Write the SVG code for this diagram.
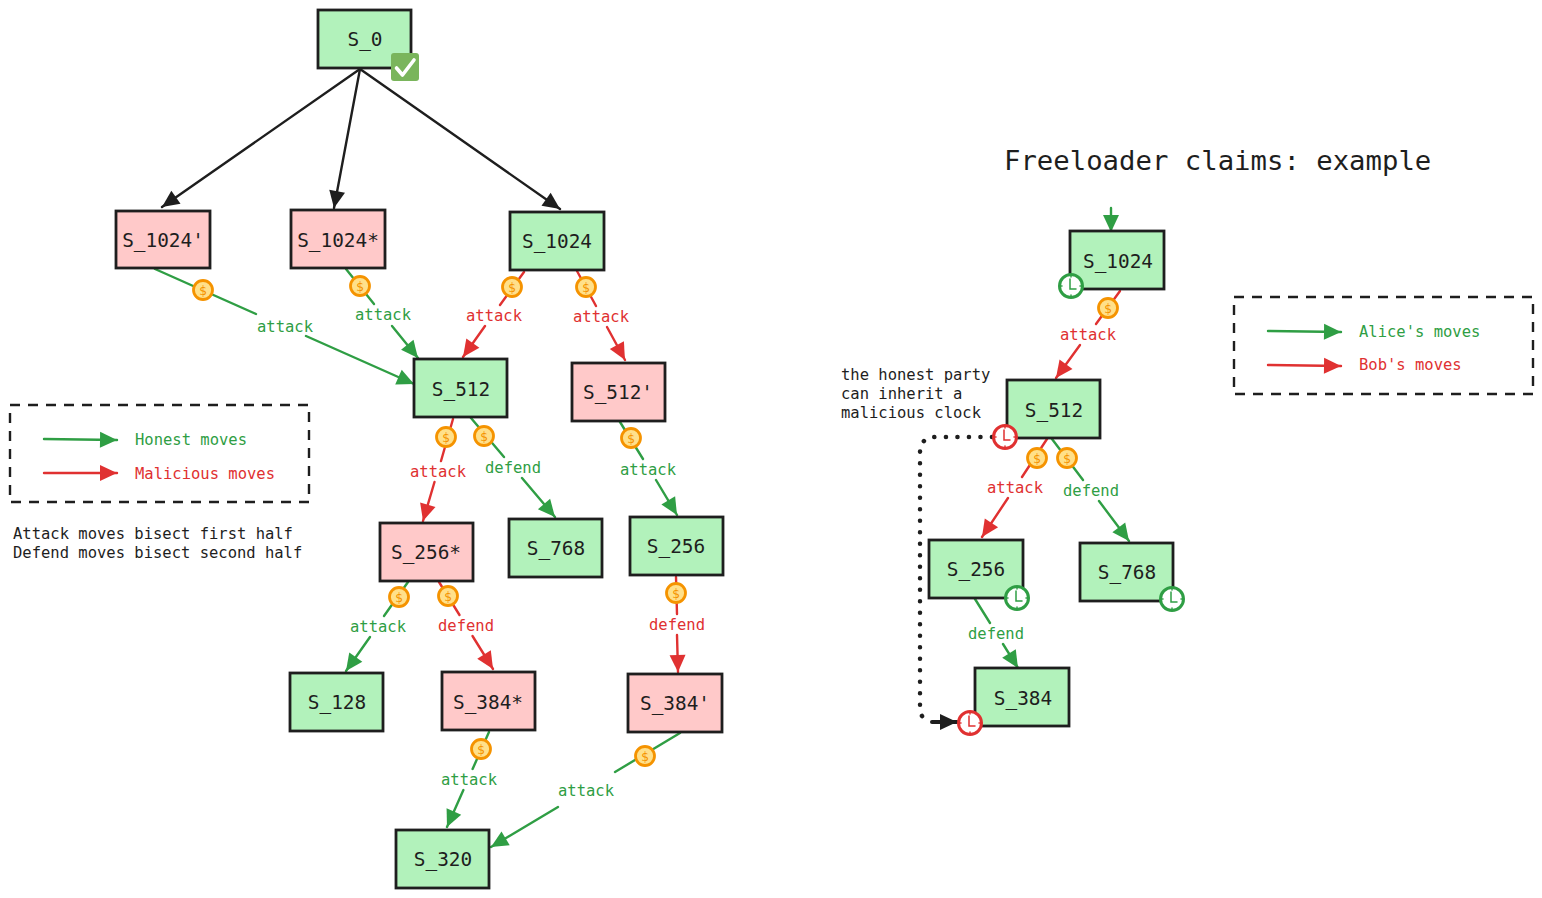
<svg xmlns="http://www.w3.org/2000/svg" width="1542" height="898" viewBox="0 0 1542 898">
<style>
text{font-family:"DejaVu Sans Mono","Liberation Mono",monospace}
.n rect{stroke:#1e1e1e;stroke-width:2.8}
.g rect{fill:#b2f2bb}
.p rect{fill:#ffc9c9}
.n text{font-size:19.4px;fill:#1e1e1e;text-anchor:middle}
.c{fill:none;stroke-width:2.4;stroke-linecap:round;stroke-linejoin:round}
.cg{stroke:#2f9e44;marker-end:url(#ag)}
.cr{stroke:#e03131;marker-end:url(#ar)}
.ck{stroke:#1e1e1e;marker-end:url(#ak)}
.l{font-size:15.5px;text-anchor:middle}
.tg{fill:#2f9e44}
.tr{fill:#e03131}
.t{font-size:15.5px;fill:#1e1e1e}
.box{fill:none;stroke:#1e1e1e;stroke-width:2.4;stroke-dasharray:10 8}
.coin circle{fill:#ffe08a;stroke:#f59300;stroke-width:2.8}
.coin text{font-size:13px;fill:#f59300;text-anchor:middle}
.clk circle{fill:#fff;stroke:currentColor;stroke-width:3}
.clk path{fill:none;stroke:currentColor;stroke-width:1.5;stroke-linecap:round}
.ckg{color:#2f9e44}
.ckr{color:#e03131}
</style>
<defs>
<marker id="ag" markerUnits="userSpaceOnUse" markerWidth="20" markerHeight="18" refX="18" refY="9" orient="auto"><path d="M1 1L18 9L1 17Z" fill="#2f9e44"/></marker>
<marker id="ar" markerUnits="userSpaceOnUse" markerWidth="20" markerHeight="18" refX="18" refY="9" orient="auto"><path d="M1 1L18 9L1 17Z" fill="#e03131"/></marker>
<marker id="ak" markerUnits="userSpaceOnUse" markerWidth="20" markerHeight="18" refX="18" refY="9" orient="auto"><path d="M1 1L18 9L1 17Z" fill="#1e1e1e"/></marker>
<g id="coin" class="coin"><circle r="9.5"/><text y="4.500">$</text></g>
<g id="clock" class="clk"><circle r="11.5"/><path d="M-1 -7V3H5M0 -11V-9M0 9V11M-11 0H-9M9 0H11"/></g>
</defs>

<g id="connectors">
<path class="c ck" d="M360 69L162 207"/>
<path class="c ck" d="M360 69L334 208"/>
<path class="c ck" d="M360 69L560 209"/>
<path class="c cg" d="M155 269L256 314M306 336L414 384"/>
<path class="c cg" d="M346 269L374 304M392 326L418 358"/>
<path class="c cr" d="M524 272L500 305M485 326L463 357"/>
<path class="c cr" d="M577 271L596 306M607 327L625 360"/>
<path class="c cr" d="M453 419L441 461M434.500 482L423 521"/>
<path class="c cg" d="M471 418L504 457M522 478L555 517"/>
<path class="c cg" d="M620 422L643 459M656 480L677 515"/>
<path class="c cg" d="M408 582L384 616M370 637L346 671"/>
<path class="c cr" d="M439 582L459.500 615M472.500 636L493 669"/>
<path class="c cr" d="M676 577L677 614M677 635L678 672"/>
<path class="c cg" d="M489 732L472.600 769M463.400 790L447 827"/>
<path class="c cg" d="M680 733L615 772M558 807L491 847"/>
<path class="c cg" d="M1111 208L1111 232"/>
<path class="c cr" d="M1120 291L1096 324M1080 345L1056 378"/>
<path class="c cr" d="M1047 439L1022 477M1008 498L982 537"/>
<path class="c cg" d="M1052 439L1083 480M1099 501L1129 541"/>
<path class="c cg" d="M975 599L990 623M1003 644L1018 668"/>
<path d="M992 437H936Q920 437 920 453V708Q920 718 928 720" fill="none" stroke="#1e1e1e" stroke-width="4.500" stroke-linecap="round" stroke-dasharray="0.100 11.400"/>
<path class="c ck" style="stroke-width:4" d="M932 722H957"/>
<path class="c cg" d="M44 439L117 440"/>
<path class="c cr" d="M44 473L117 473"/>
<path class="c cg" d="M1268 331L1341 332"/>
<path class="c cr" d="M1268 365L1341 366"/>
</g>

<g id="edge-labels">
<text class="l tg" x="285" y="332">attack</text>
<text class="l tg" x="383" y="320">attack</text>
<text class="l tr" x="494" y="321">attack</text>
<text class="l tr" x="601" y="322">attack</text>
<text class="l tr" x="438" y="477">attack</text>
<text class="l tg" x="513" y="473">defend</text>
<text class="l tg" x="648" y="475">attack</text>
<text class="l tg" x="378" y="632">attack</text>
<text class="l tr" x="466" y="631">defend</text>
<text class="l tr" x="677" y="630">defend</text>
<text class="l tg" x="469" y="785">attack</text>
<text class="l tg" x="586" y="796">attack</text>
<text class="l tr" x="1088" y="340">attack</text>
<text class="l tr" x="1015" y="493">attack</text>
<text class="l tg" x="1091" y="496">defend</text>
<text class="l tg" x="996" y="639">defend</text>
</g>

<g id="n-s0" class="n g"><rect x="318" y="10" width="93" height="58"/><text x="365" y="46">S_0</text></g>
<g id="n-s1024a" class="n p"><rect x="116" y="211" width="94" height="57"/><text x="163" y="247">S_1024'</text></g>
<g id="n-s1024b" class="n p"><rect x="291" y="210" width="94" height="58"/><text x="338" y="247">S_1024*</text></g>
<g id="n-s1024" class="n g"><rect x="510" y="212" width="94" height="58"/><text x="557" y="248">S_1024</text></g>
<g id="n-s512" class="n g"><rect x="414" y="359" width="93" height="58"/><text x="461" y="396">S_512</text></g>
<g id="n-s512a" class="n p"><rect x="572" y="363" width="93" height="58"/><text x="618" y="399">S_512'</text></g>
<g id="n-s256b" class="n p"><rect x="380" y="523" width="93" height="58"/><text x="426" y="559">S_256*</text></g>
<g id="n-s768" class="n g"><rect x="509" y="519" width="93" height="58"/><text x="556" y="555">S_768</text></g>
<g id="n-s256" class="n g"><rect x="630" y="517" width="93" height="58"/><text x="676" y="553">S_256</text></g>
<g id="n-s128" class="n g"><rect x="290" y="673" width="93" height="58"/><text x="337" y="709">S_128</text></g>
<g id="n-s384b" class="n p"><rect x="442" y="672" width="93" height="58"/><text x="488" y="709">S_384*</text></g>
<g id="n-s384a" class="n p"><rect x="628" y="674" width="94" height="58"/><text x="675" y="710">S_384'</text></g>
<g id="n-s320" class="n g"><rect x="396" y="830" width="93" height="58"/><text x="443" y="866">S_320</text></g>
<g id="r-s1024" class="n g"><rect x="1070" y="231" width="94" height="58"/><text x="1118" y="268">S_1024</text></g>
<g id="r-s512" class="n g"><rect x="1007" y="380" width="93" height="58"/><text x="1054" y="417">S_512</text></g>
<g id="r-s256" class="n g"><rect x="929" y="540" width="94" height="58"/><text x="976" y="576">S_256</text></g>
<g id="r-s768" class="n g"><rect x="1080" y="543" width="93" height="58"/><text x="1127" y="579">S_768</text></g>
<g id="r-s384" class="n g"><rect x="975" y="668" width="94" height="58"/><text x="1023" y="705">S_384</text></g>

<g id="check"><rect x="391" y="53" width="28" height="28" rx="3" fill="#7ab55c"/><path d="M396.500 68L402.500 75L414 60" fill="none" stroke="#fff" stroke-width="3.600" stroke-linecap="round" stroke-linejoin="round"/></g>

<g id="coins">
<use href="#coin" x="203" y="290"/>
<use href="#coin" x="360" y="286"/>
<use href="#coin" x="512" y="287"/>
<use href="#coin" x="586" y="287"/>
<use href="#coin" x="446" y="437"/>
<use href="#coin" x="484" y="436"/>
<use href="#coin" x="631" y="438"/>
<use href="#coin" x="399" y="597"/>
<use href="#coin" x="448" y="596"/>
<use href="#coin" x="676" y="593"/>
<use href="#coin" x="481" y="749"/>
<use href="#coin" x="645" y="756"/>
<use href="#coin" x="1108" y="308"/>
<use href="#coin" x="1037" y="458"/>
<use href="#coin" x="1067" y="458"/>
</g>

<g id="clocks">
<use class="ckg" href="#clock" x="1071" y="286"/>
<use class="ckr" href="#clock" x="1005" y="437"/>
<use class="ckg" href="#clock" x="1017" y="598"/>
<use class="ckg" href="#clock" x="1172" y="599"/>
<use class="ckr" href="#clock" x="970" y="723"/>
</g>

<g id="legend-left">
<rect class="box" x="10" y="405" width="299" height="97"/>
<text class="t" style="fill:#2f9e44" x="135" y="445">Honest moves</text>
<text class="t" style="fill:#e03131" x="135" y="479">Malicious moves</text>
</g>
<g id="legend-right">
<rect class="box" x="1234" y="297" width="299" height="97"/>
<text class="t" style="fill:#2f9e44" x="1359" y="337">Alice's moves</text>
<text class="t" style="fill:#e03131" x="1359" y="370">Bob's moves</text>
</g>
<g id="notes">
<text class="t" x="13" y="539">Attack moves bisect first half</text>
<text class="t" x="13" y="558">Defend moves bisect second half</text>
<text class="t" x="841" y="380">the honest party</text>
<text class="t" x="841" y="399">can inherit a</text>
<text class="t" x="841" y="418">malicious clock</text>
<text x="1004" y="170" font-size="27.300" fill="#1e1e1e">Freeloader claims: example</text>
</g>
</svg>
